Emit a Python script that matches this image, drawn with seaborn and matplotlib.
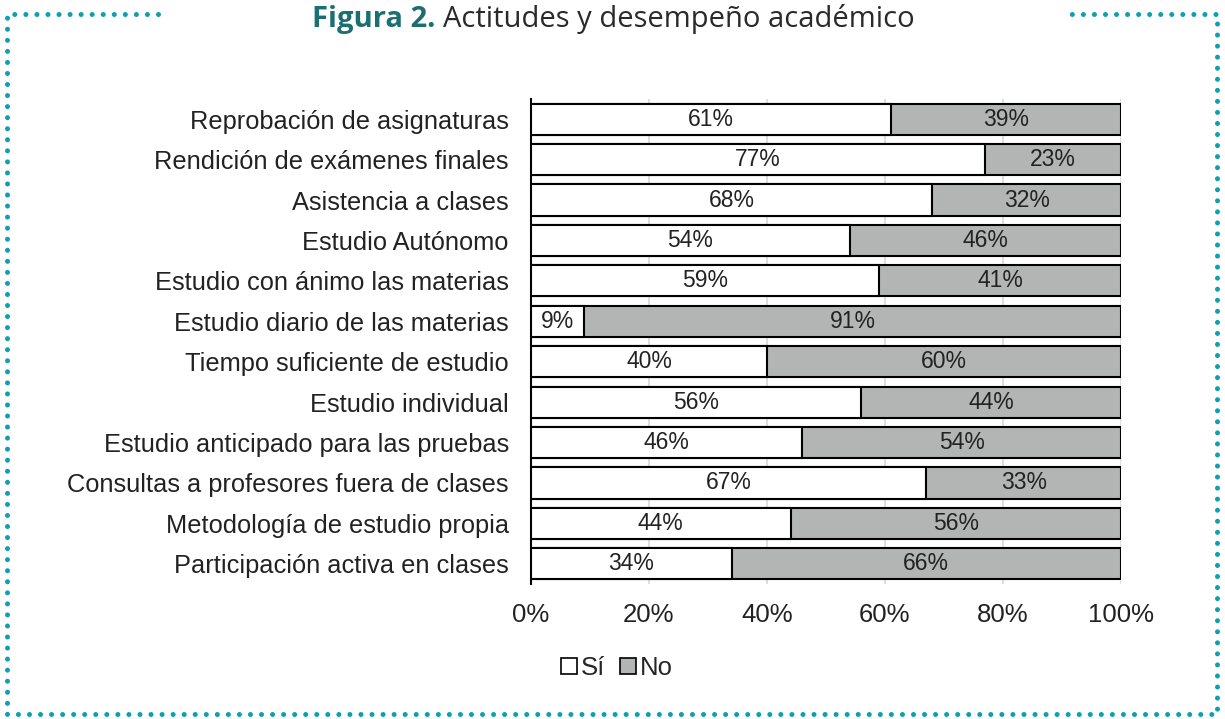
import matplotlib
matplotlib.use("Agg")
import matplotlib.pyplot as plt
from matplotlib.lines import Line2D
from matplotlib.patches import Patch
import pandas as pd
import seaborn as sns

categorias = [
    "Reprobación de asignaturas",
    "Rendición de exámenes finales",
    "Asistencia a clases",
    "Estudio Autónomo",
    "Estudio con ánimo las materias",
    "Estudio diario de las materias",
    "Tiempo suficiente de estudio",
    "Estudio individual",
    "Estudio anticipado para las pruebas",
    "Consultas a profesores fuera de clases",
    "Metodología de estudio propia",
    "Participación activa en clases",
]
si = [61, 77, 68, 54, 59, 9, 40, 56, 46, 67, 44, 34]
no = [39, 23, 32, 46, 41, 91, 60, 44, 54, 33, 56, 66]
ticks = [0, 20, 40, 60, 80, 100]

GRIS = "#b3b5b5"
TEAL = "#0e9fb0"
TITULO = "#1b6f72"

df = pd.DataFrame({"cat": categorias, "si": si, "no": no})
df["total"] = df["si"] + df["no"]

sns.set_style("white")
plt.rcParams["font.family"] = ["Liberation Sans", "DejaVu Sans"]

W, H = 1225, 719
fig = plt.figure(figsize=(W / 100, H / 100), dpi=100)
ax = fig.add_axes([531 / W, 1 - 584 / H, 590 / W, 485 / H])

# gray = whole bar (Sí + No), white Sí drawn over it
sns.barplot(data=df, y="cat", x="total", color=GRIS, edgecolor="black",
            linewidth=1.5, width=0.77, saturation=1, ax=ax, zorder=2)
sns.barplot(data=df, y="cat", x="si", color="white", edgecolor="black",
            linewidth=1.5, width=0.77, saturation=1, ax=ax, zorder=3)

for bar, s, n in zip(ax.containers[1], df["si"], df["no"]):
    y = bar.get_y() + bar.get_height() / 2
    ax.text(s / 2, y, f"{s}%", ha="center", va="center", fontsize=16.5, color="#222222", zorder=4)
    ax.text(s + n / 2, y, f"{n}%", ha="center", va="center", fontsize=16.5, color="#222222", zorder=4)

ax.set_xlim(0, 100)
ax.set_ylim(11.5, -0.5)
ax.set_xticks(ticks)
ax.set_xticklabels([f"{t}%" for t in ticks], fontsize=18.5, color="#222222")
ax.tick_params(axis="y", labelsize=18.3, labelcolor="#222222", length=0, pad=16)
ax.tick_params(axis="x", length=0, pad=14)
ax.set_xlabel("")
ax.set_ylabel("")
ax.xaxis.grid(True, color="#d8d8d8", linewidth=1.2, zorder=0)
ax.set_axisbelow(True)
for side in ["top", "right", "bottom"]:
    ax.spines[side].set_visible(False)
ax.spines["left"].set_color("black")
ax.spines["left"].set_linewidth(1.5)

handles = [Patch(facecolor="white", edgecolor="black", linewidth=1.2, label="Sí"),
           Patch(facecolor=GRIS, edgecolor="black", linewidth=1.2, label="No")]
fig.legend(handles=handles, loc="center", bbox_to_anchor=(617 / W, 1 - 668 / H),
           ncol=2, frameon=False, fontsize=18.5, handlelength=0.6, handleheight=0.6,
           handletextpad=0.15, columnspacing=0.6)

# title in two colours
t1 = fig.text(312 / W, 1 - 19 / H, "Figura 2.", fontsize=21, fontweight="bold",
              color=TITULO, ha="left", va="center", family=["Open Sans", "DejaVu Sans"])
fig.canvas.draw()
bb = t1.get_window_extent()
fig.text((bb.x1 + 8) / W, 1 - 19 / H, "Actitudes y desempeño académico", fontsize=21,
         color="#2a2a2a", ha="left", va="center", family=["Open Sans", "DejaVu Sans"])

# dotted teal frame, open around the title
def dotted(xs, ys):
    fig.add_artist(Line2D([x / W for x in xs], [1 - y / H for y in ys], color=TEAL,
                          linewidth=3.6, linestyle=(0, (0.01, 2.2)), dash_capstyle="round",
                          solid_capstyle="round", transform=fig.transFigure))
dotted([158, 7, 7, 1217, 1217, 1068], [14, 14, 714, 714, 14, 14])

fig.savefig("out.png", dpi=100)
